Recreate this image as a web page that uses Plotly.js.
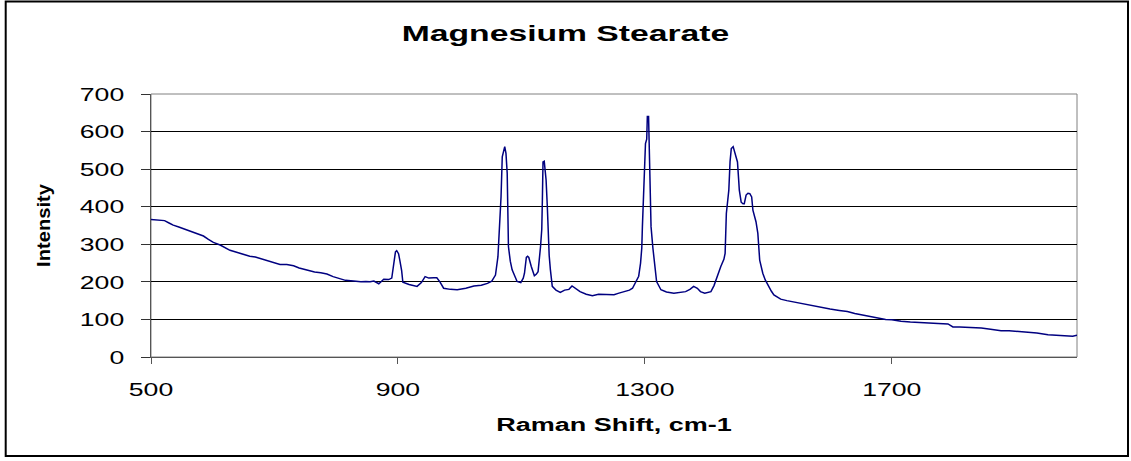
<!DOCTYPE html>
<html>
<head>
<meta charset="utf-8">
<script src="https://cdn.plot.ly/plotly-3.0.1.min.js"></script>
<style>
  html, body { margin: 0; padding: 0; background: #fff; }
  #chart { width: 1131px; height: 461px; }
</style>
</head>
<body>
<div id="chart"></div>
<script>
// Raman shift (cm-1)
const ramanShift = [
  500, 510, 517, 522, 530, 536, 545, 555, 566, 575, 585, 593, 601, 612, 620, 628,
  640, 650, 660, 669, 680, 690, 700, 709, 720, 731, 740, 752, 765, 775, 785, 795,
  807, 815, 828, 840, 848, 855, 861, 869, 877, 885, 890, 893, 896, 898, 901, 903,
  906, 908, 918, 931, 938, 944, 950, 958, 963, 968, 974, 985, 996, 1010, 1023, 1035,
  1045, 1052, 1058, 1062, 1064, 1067, 1069, 1072, 1073, 1075, 1077, 1079, 1082, 1085, 1090, 1093,
  1099, 1103, 1105, 1108, 1110, 1112, 1116, 1121, 1124, 1127, 1131, 1133, 1134, 1135, 1137, 1140,
  1142, 1143, 1145, 1147, 1150, 1156, 1163, 1170, 1177, 1182, 1188, 1195, 1205, 1215, 1225, 1234,
  1242, 1250, 1258, 1266, 1275, 1280, 1285, 1290, 1293, 1295, 1296, 1298, 1299, 1301, 1303, 1304,
  1306, 1307, 1308, 1310, 1313, 1315, 1317, 1319, 1326, 1335, 1347, 1355, 1366, 1373, 1379, 1385,
  1390, 1397, 1407, 1412, 1415, 1420, 1423, 1428, 1430, 1432, 1434, 1436, 1438, 1440, 1443, 1446,
  1450, 1452, 1453, 1456, 1459, 1461, 1464, 1467, 1470, 1473, 1475, 1480, 1483, 1486, 1489, 1491,
  1495, 1499, 1505, 1509, 1515, 1520, 1530, 1545, 1553, 1565, 1575, 1585, 1600, 1615, 1628, 1640,
  1655, 1665, 1677, 1690, 1700, 1715, 1730, 1745, 1758, 1775, 1791, 1799, 1810, 1830, 1845, 1860,
  1877, 1890, 1905, 1920, 1935, 1953, 1970, 1985, 1993, 2000
];
// Intensity
const intensity = [
  366, 365, 365, 363, 356, 351, 346, 340, 334, 330, 322, 313, 305, 298, 292, 284,
  278, 273, 268, 266, 260, 255, 250, 246, 246, 243, 237, 231, 226, 224, 221, 214,
  207, 204, 202, 200, 201, 200, 202, 195, 207, 206, 210, 250, 280, 283, 275, 258,
  230, 199, 193, 188, 198, 214, 210, 211, 211, 200, 183, 180, 179, 183, 189, 191,
  196, 202, 218, 267, 320, 426, 533, 559, 560, 542, 489, 294, 255, 232, 210, 201,
  198, 210, 223, 265, 268, 265, 241, 216, 220, 227, 294, 340, 420, 519, 521, 471,
  400, 347, 270, 232, 188, 178, 172, 178, 180, 189, 183, 174, 167, 163, 167, 167,
  165, 166, 170, 174, 178, 183, 201, 215, 250, 290, 347, 420, 470, 568, 580, 640,
  640, 570, 470, 347, 290, 258, 220, 201, 179, 173, 170, 172, 174, 180, 188, 183,
  174, 170, 174, 190, 205, 225, 241, 260, 276, 382, 420, 444, 520, 555, 560, 545,
  519, 470, 444, 412, 408, 408, 431, 436, 435, 426, 391, 360, 329, 258, 235, 223,
  205, 192, 175, 165, 158, 154, 150, 145, 142, 140, 136, 133, 128, 124, 121, 116,
  111, 108, 104, 100, 99, 95, 93, 91, 90, 89, 88, 80, 80, 79, 77, 74,
  70, 70, 68, 66, 64, 59, 57, 55, 55, 58
];
const xTickVals = [500, 900, 1300, 1700];
const yTickVals = [0, 100, 200, 300, 400, 500, 600, 700];

const chartTitle = 'Magnesium Stearate';
const xTitle = 'Raman Shift, cm-1';
const yTitle = 'Intensity';

const FONT = 'Liberation Sans, Arial, sans-serif';

const trace = {
  x: ramanShift,
  y: intensity,
  type: 'scatter',
  mode: 'lines',
  line: { color: '#000080', width: 1.5 },
  hoverinfo: 'x+y'
};

const layout = {
  width: 1131,
  height: 461,
  margin: { l: 151, r: 54, t: 94, b: 104 },
  paper_bgcolor: '#ffffff',
  plot_bgcolor: '#ffffff',
  showlegend: false,
  font: { family: FONT, color: '#000000' },
  title: {
    text: '<b>' + chartTitle + '</b>',
    font: { family: FONT, size: 22, color: '#000000' },
    xref: 'container', x: 0.5, xanchor: 'center',
    yref: 'container', y: 1 - 33 / 461, yanchor: 'middle'
  },
  xaxis: {
    range: [500, 2000],
    tickmode: 'array',
    tickvals: xTickVals,
    ticktext: xTickVals.map(String),
    ticks: 'outside', ticklen: 6, tickwidth: 1, tickcolor: '#555555',
    ticklabelstandoff: 9,
    showgrid: false,
    zeroline: false,
    showline: true, linecolor: '#555555', linewidth: 1,
    tickfont: { family: FONT, size: 19, color: '#000000' },
    title: { text: '<b>' + xTitle + '</b>', font: { family: FONT, size: 18, color: '#000000' }, standoff: 19 },
    automargin: false
  },
  yaxis: {
    range: [0, 700],
    tickmode: 'array',
    tickvals: yTickVals,
    ticktext: yTickVals.map(String),
    ticks: 'outside', ticklen: 9, tickwidth: 1, tickcolor: '#333333',
    ticklabelstandoff: 13,
    showgrid: true, gridcolor: '#000000', gridwidth: 1,
    zeroline: false,
    showline: true, linecolor: '#555555', linewidth: 1,
    tickfont: { family: FONT, size: 19, color: '#000000' },
    title: { text: '<b>' + yTitle + '</b>', font: { family: FONT, size: 18, color: '#000000' }, standoff: 37 },
    automargin: false
  },
  shapes: [
    // grey plot-area frame (top and right)
    { type: 'rect', xref: 'paper', yref: 'paper', x0: 0, x1: 1, y0: 0, y1: 1,
      line: { color: '#808080', width: 1 }, fillcolor: 'rgba(0,0,0,0)', layer: 'below' },
    // outer chart border
    { type: 'rect', xref: 'paper', yref: 'paper',
      x0: (5.7 - 151) / 926, x1: (1128 - 151) / 926,
      y0: (357 - 456) / 263, y1: (357 - 1.5) / 263,
      line: { color: '#000000', width: 2 }, fillcolor: 'rgba(0,0,0,0)' }
  ]
};

Plotly.newPlot('chart', [trace], layout, { displayModeBar: false, staticPlot: true }).then(function (gd) {
  // the reference text is drawn horizontally wide; widen glyphs to match
  function stretch(sel, f) {
    gd.querySelectorAll(sel).forEach(function (t) {
      var L = t.getComputedTextLength();
      if (L > 0) {
        t.setAttribute('textLength', (L * f).toFixed(1));
        t.setAttribute('lengthAdjust', 'spacingAndGlyphs');
      }
    });
  }
  stretch('.xtick text', 1.4);
  stretch('.ytick text', 1.4);
  stretch('text.gtitle', 1.53);
  stretch('text.xtitle', 1.5);
  stretch('text.ytitle', 1.12);
});
</script>
</body>
</html>
